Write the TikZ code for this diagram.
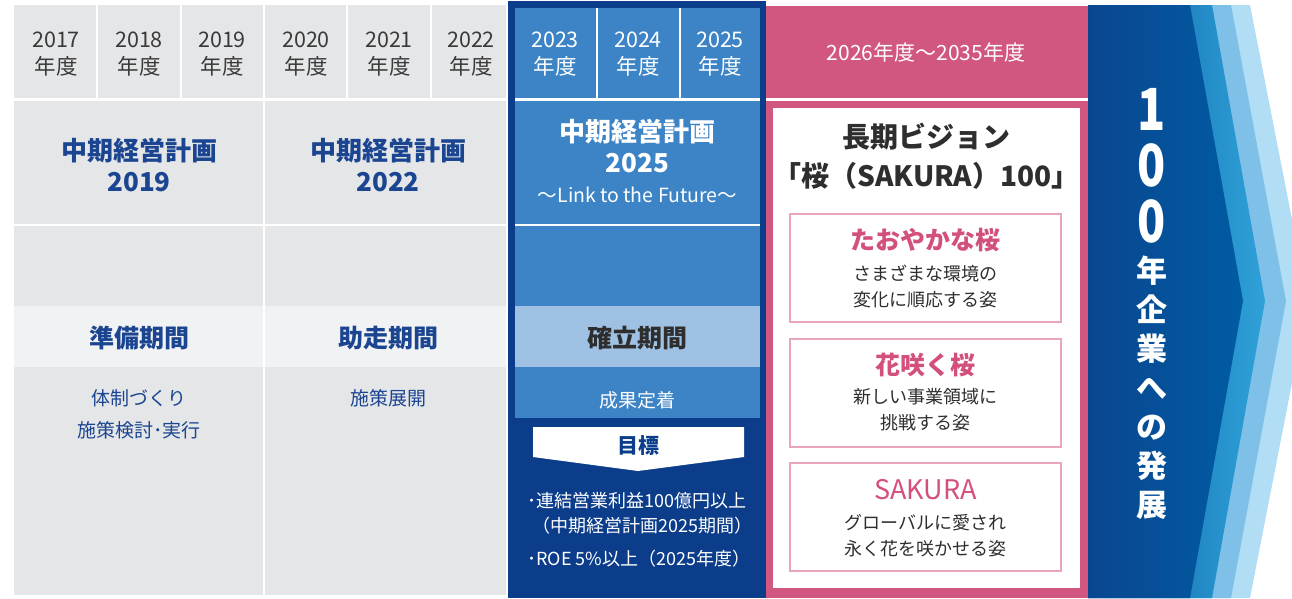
\documentclass[tikz,border=0pt]{standalone}
\usepackage{fontspec}
\setmainfont{Noto Sans CJK JP}

\definecolor{cellgrey}{HTML}{E5E6E8}
\definecolor{phasegrey}{HTML}{F1F2F3}
\definecolor{plannavy}{HTML}{1B4590}
\definecolor{yeargrey}{HTML}{3A3A3A}
\definecolor{bodytext}{HTML}{2E2E2E}
\definecolor{navy}{HTML}{0B3D8B}
\definecolor{midblue}{HTML}{3D84C6}
\definecolor{paleblue}{HTML}{9FC1E3}
\definecolor{sakura}{HTML}{D15680}
\definecolor{sakuratext}{HTML}{D4507C}
\definecolor{sakuraline}{HTML}{E9A5BA}
\definecolor{arrowdeep}{HTML}{0A4690}
\definecolor{arrowblue}{HTML}{005CA3}
\definecolor{bandmid}{HTML}{0E62A8}
\definecolor{bandtip}{HTML}{2FA2D8}
\definecolor{bandlight}{HTML}{7EC0E7}
\definecolor{bandpale}{HTML}{B1DDF5}

\begin{document}
\begin{tikzpicture}[x=1pt,y=-1pt,
  yeartxt/.style={align=center,font=\fontsize{21.5}{27}\selectfont},
  plantxt/.style={align=center,font=\fontsize{26}{31}\selectfont\bfseries},
  phasetxt/.style={font=\fontsize{25}{30}\selectfont\bfseries},
  subtxt/.style={align=center,font=\fontsize{19}{32}\selectfont},
  goaltxt/.style={anchor=west,align=left,text=white,font=\fontsize{18}{26}\selectfont},
  boxtitle/.style={text=sakuratext,font=\fontsize{25}{30}\selectfont\bfseries},
  boxtxt/.style={align=center,text=bodytext,font=\fontsize{18}{26}\selectfont},
  visionbox/.style={draw=sakuraline,line width=2.5pt,fill=white}
]

\useasboundingbox (0,0) rectangle (1292,598);

% grey part, 2017--2022
\fill[cellgrey] (14,5) rectangle (506,595);
\fill[phasegrey] (14,306) rectangle (506,367);
\foreach \sx in {97,181,347,431}
  \draw[white,line width=2.5] (\sx,5) -- (\sx,98);
\draw[white,line width=2.5] (264,5) -- (264,595);
\draw[white,line width=3] (14,99) -- (506,99);
\draw[white,line width=2.5] (14,225) -- (506,225);

\foreach \yr/\cx in {2017/56,2018/139,2019/222,2020/306,2021/389,2022/471}
  \node[yeartxt,text=yeargrey] (y\yr) at (\cx,54.5) {\yr\\年度};

\node[plantxt,text=plannavy] (plan19) at (139,164.5) {中期経営計画\\2019};
\node[plantxt,text=plannavy] (plan22) at (388,164.5) {中期経営計画\\2022};
\node[phasetxt,text=plannavy] (prep) at (139,338) {準備期間};
\node[phasetxt,text=plannavy] (run) at (388,338) {助走期間};
\node[subtxt,text=plannavy] (prepsub) at (139,414) {体制づくり\\施策検討･実行};
\node[subtxt,text=plannavy] (runsub) at (388,398) {施策展開};

% current plan, 2023--2025
\fill[navy] (508,1) rectangle (766,598);
\fill[midblue] (515,8) rectangle (760,418);
\fill[paleblue] (515,306) rectangle (760,367);
\foreach \sx in {597,680}
  \draw[white,line width=2] (\sx,8) -- (\sx,98);
\draw[white,line width=3] (515,99) -- (760,99);
\draw[white,line width=2.5] (515,225) -- (760,225);

\foreach \yr/\cx in {2023/555,2024/638,2025/720}
  \node[yeartxt,text=white] (y\yr) at (\cx,54.5) {\yr\\年度};

\node[plantxt,text=white] (plan25) at (637.5,146) {中期経営計画\\2025};
\node[text=white,font=\fontsize{19.5}{22}\selectfont] (future) at (637.5,195) {～Link to the Future～};
\node[phasetxt,text=bodytext] (fix) at (637.5,338) {確立期間};
\node[subtxt,text=white] (fixsub) at (637.5,400) {成果定着};

\fill[white] (533,427) -- (744,427) -- (744,457) -- (638,471) -- (533,457) -- cycle;
\node[text=navy,font=\fontsize{21}{25}\selectfont\bfseries] (goal) at (638,446) {目標};
\node[goaltxt] (goal1) at (524,513) {･連結営業利益100億円以上\\[-1pt]\hspace{5pt}（中期経営計画2025期間）};
\node[goaltxt] (goal2) at (524,559) {･ROE 5\%以上（2025年度）};

% long-term vision, 2026--2035
\fill[sakura] (766,6) rectangle (1088,98);
\fill[sakura] (766,101) rectangle (1088,598);
\fill[white] (773,108) rectangle (1080,588);
\node[text=white,font=\fontsize{21}{24}\selectfont] (later) at (926,52) {2026年度～2035年度};

\node[align=center,text=bodytext,font=\fontsize{28}{39}\selectfont\bfseries] (vision)
  at (926.5,156.5) {長期ビジョン\\「桜（SAKURA）100」};

\draw[visionbox] (790,214) rectangle (1061,322);
\draw[visionbox] (790,339) rectangle (1061,447);
\draw[visionbox] (790,463) rectangle (1061,571);

\node[boxtitle] (tao) at (925.5,240) {たおやかな桜};
\node[boxtxt] (taosub) at (925.5,286) {さまざまな環境の\\変化に順応する姿};
\node[boxtitle] (hana) at (925.5,365) {花咲く桜};
\node[boxtxt] (hanasub) at (925.5,410) {新しい事業領域に\\挑戦する姿};
\node[boxtitle,font=\fontsize{27}{30}\selectfont] (sak) at (925.5,490) {SAKURA};
\node[boxtxt] (saksub) at (925.5,535.5) {グローバルに愛され\\永く花を咲かせる姿};

% arrow to the right
\fill[bandpale] (1088,5) -- (1250,5) -- (1308,301) -- (1250,598) -- (1088,598) -- cycle;
\fill[bandlight] (1088,5) -- (1231,5) -- (1286,301) -- (1231,598) -- (1088,598) -- cycle;
\shade[left color=bandmid,right color=bandtip]
  (1088,5) -- (1212,5) -- (1265,301) -- (1212,598) -- (1088,598) -- cycle;
\shade[left color=arrowdeep,right color=arrowblue]
  (1088,5) -- (1190,5) -- (1243,301) -- (1190,598) -- (1088,598) -- cycle;

\node[align=center,text=white,xscale=.8,font=\fontsize{58}{56}\selectfont\bfseries]
  (hundred) at (1152,166) {1\\0\\0};
\node[align=center,text=white,font=\fontsize{31}{39}\selectfont\bfseries]
  (century) at (1152,388) {年\\企\\業\\へ\\の\\発\\展};

\end{tikzpicture}
\end{document}
